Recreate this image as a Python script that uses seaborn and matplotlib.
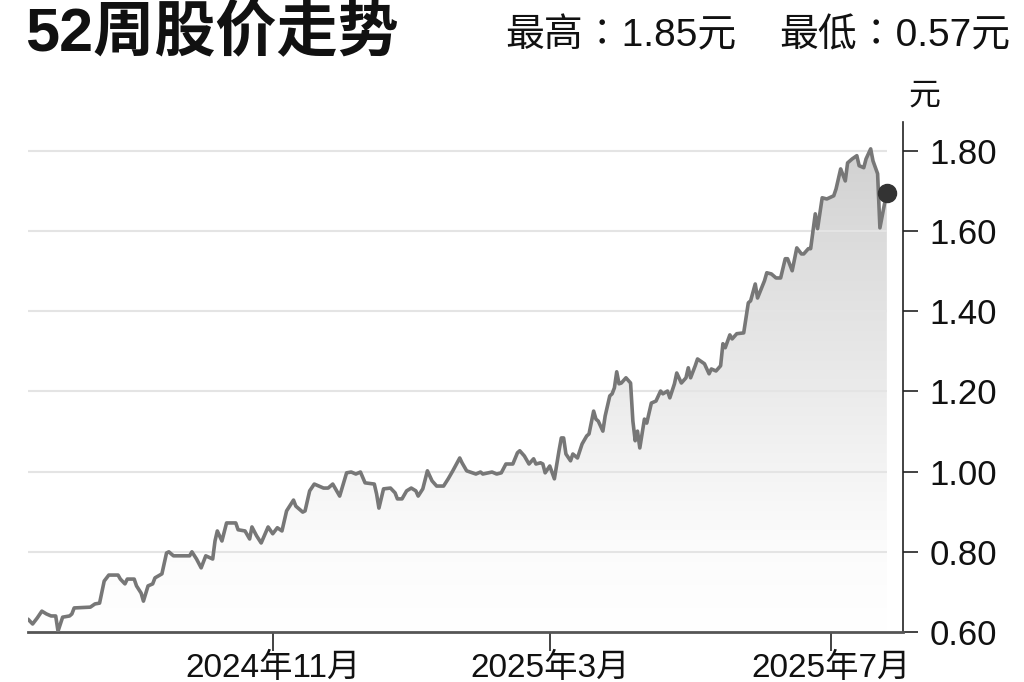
import pandas as pd
import seaborn as sns
import matplotlib.pyplot as plt
import matplotlib.dates as mdates
import numpy as np
from matplotlib.colors import LinearSegmentedColormap

# 52-week closing prices
dates = [
    "2024-07-18", "2024-07-20", "2024-07-22", "2024-07-24", "2024-07-26", "2024-07-28",
    "2024-07-30", "2024-07-31", "2024-08-02", "2024-08-05", "2024-08-06", "2024-08-07",
    "2024-08-14", "2024-08-16", "2024-08-18", "2024-08-20", "2024-08-22", "2024-08-26",
    "2024-08-27", "2024-08-29", "2024-08-30", "2024-09-02", "2024-09-03", "2024-09-05",
    "2024-09-06", "2024-09-08", "2024-09-10", "2024-09-11", "2024-09-14", "2024-09-16",
    "2024-09-17", "2024-09-19", "2024-09-26", "2024-09-27", "2024-09-29", "2024-10-01",
    "2024-10-03", "2024-10-06", "2024-10-07", "2024-10-08", "2024-10-10", "2024-10-12",
    "2024-10-16", "2024-10-17", "2024-10-20", "2024-10-22", "2024-10-23", "2024-10-25",
    "2024-10-27", "2024-10-30", "2024-11-01", "2024-11-03", "2024-11-05", "2024-11-07",
    "2024-11-10", "2024-11-11", "2024-11-14", "2024-11-15", "2024-11-17", "2024-11-19",
    "2024-11-23", "2024-11-25", "2024-11-27", "2024-11-30", "2024-12-03", "2024-12-05",
    "2024-12-07", "2024-12-09", "2024-12-11", "2024-12-15", "2024-12-16", "2024-12-17",
    "2024-12-19", "2024-12-22", "2024-12-24", "2024-12-25", "2024-12-27", "2024-12-29",
    "2024-12-31", "2025-01-02", "2025-01-03", "2025-01-05", "2025-01-07", "2025-01-09",
    "2025-01-11", "2025-01-14", "2025-01-16", "2025-01-18", "2025-01-21", "2025-01-22",
    "2025-01-24", "2025-01-28", "2025-01-30", "2025-01-31", "2025-02-04", "2025-02-06",
    "2025-02-08", "2025-02-10", "2025-02-13", "2025-02-15", "2025-02-16", "2025-02-18",
    "2025-02-20", "2025-02-22", "2025-02-23", "2025-02-25", "2025-02-26", "2025-02-27",
    "2025-03-01", "2025-03-03", "2025-03-05", "2025-03-06", "2025-03-07", "2025-03-08",
    "2025-03-10", "2025-03-11", "2025-03-13", "2025-03-15", "2025-03-17", "2025-03-18",
    "2025-03-20", "2025-03-21", "2025-03-22", "2025-03-24", "2025-03-25", "2025-03-27",
    "2025-03-28", "2025-03-29", "2025-03-30", "2025-03-31", "2025-04-01", "2025-04-03",
    "2025-04-05", "2025-04-06", "2025-04-07", "2025-04-08", "2025-04-09", "2025-04-11",
    "2025-04-12", "2025-04-14", "2025-04-16", "2025-04-18", "2025-04-19", "2025-04-21",
    "2025-04-22", "2025-04-24", "2025-04-25", "2025-04-27", "2025-04-29", "2025-04-30",
    "2025-05-01", "2025-05-03", "2025-05-04", "2025-05-07", "2025-05-09", "2025-05-10",
    "2025-05-12", "2025-05-14", "2025-05-15", "2025-05-16", "2025-05-18", "2025-05-19",
    "2025-05-21", "2025-05-24", "2025-05-26", "2025-05-27", "2025-05-29", "2025-05-30",
    "2025-06-02", "2025-06-03", "2025-06-05", "2025-06-07", "2025-06-09", "2025-06-11",
    "2025-06-12", "2025-06-14", "2025-06-16", "2025-06-18", "2025-06-19", "2025-06-21",
    "2025-06-22", "2025-06-24", "2025-06-25", "2025-06-27", "2025-06-29", "2025-07-02",
    "2025-07-03", "2025-07-05", "2025-07-07", "2025-07-08", "2025-07-10", "2025-07-12",
    "2025-07-13", "2025-07-15", "2025-07-16", "2025-07-18", "2025-07-19", "2025-07-21",
    "2025-07-22", "2025-07-24", "2025-07-25",
]
prices = [
    0.632, 0.620, 0.635, 0.652, 0.645, 0.640,
    0.640, 0.602, 0.637, 0.640, 0.645, 0.660,
    0.662, 0.670, 0.672, 0.727, 0.742, 0.742,
    0.732, 0.720, 0.732, 0.732, 0.715, 0.697,
    0.677, 0.715, 0.720, 0.735, 0.745, 0.797,
    0.800, 0.790, 0.790, 0.800, 0.782, 0.760,
    0.790, 0.782, 0.827, 0.852, 0.827, 0.872,
    0.872, 0.855, 0.852, 0.832, 0.862, 0.840,
    0.822, 0.862, 0.845, 0.860, 0.852, 0.902,
    0.929, 0.914, 0.899, 0.902, 0.952, 0.969,
    0.959, 0.959, 0.969, 0.939, 0.997, 0.999,
    0.994, 0.999, 0.972, 0.969, 0.944, 0.909,
    0.957, 0.959, 0.947, 0.932, 0.932, 0.952,
    0.959, 0.952, 0.939, 0.957, 1.002, 0.977,
    0.964, 0.964, 0.982, 1.002, 1.034, 1.022,
    1.002, 0.994, 0.999, 0.994, 0.999, 0.994,
    0.997, 1.019, 1.019, 1.047, 1.052, 1.039,
    1.019, 1.032, 1.019, 1.022, 1.019, 0.997,
    1.014, 0.982, 1.052, 1.084, 1.084, 1.044,
    1.027, 1.044, 1.034, 1.069, 1.089, 1.094,
    1.151, 1.131, 1.126, 1.101, 1.139, 1.189,
    1.194, 1.209, 1.249, 1.219, 1.221, 1.234,
    1.221, 1.126, 1.077, 1.101, 1.059, 1.131,
    1.121, 1.171, 1.176, 1.201, 1.194, 1.201,
    1.184, 1.219, 1.246, 1.221, 1.234, 1.259,
    1.234, 1.264, 1.281, 1.269, 1.244, 1.256,
    1.251, 1.264, 1.319, 1.309, 1.341, 1.331,
    1.344, 1.346, 1.421, 1.426, 1.468, 1.433,
    1.476, 1.496, 1.493, 1.483, 1.483, 1.531,
    1.531, 1.501, 1.558, 1.543, 1.543, 1.556,
    1.556, 1.643, 1.606, 1.683, 1.680, 1.688,
    1.705, 1.755, 1.725, 1.770, 1.780, 1.788,
    1.763, 1.758, 1.780, 1.805, 1.775, 1.743,
    1.608, 1.668, 1.695,
]

y_ticks = [0.60, 0.80, 1.00, 1.20, 1.40, 1.60, 1.80]
x_ticks = ["2024-11-01", "2025-03-01", "2025-07-01"]
x_tick_labels = ["2024年11月", "2025年3月", "2025年7月"]
title = "52周股价走势"
high_text = "最高∶1.85元"
low_text = "最低∶0.57元"

df = pd.DataFrame({"date": pd.to_datetime(dates), "price": prices})

sns.set_theme(style="white")
plt.rcParams["font.family"] = ["Liberation Sans", "Noto Sans CJK SC", "DejaVu Sans"]

fig = plt.figure(figsize=(10.24, 6.82), dpi=100)
ax = fig.add_axes([28 / 1024, 1 - 632 / 682, 875 / 1024, 510 / 682])

xmin = pd.Timestamp("2024-07-18")
xmax = pd.Timestamp("2025-08-01")
ymin, ymax = 0.60, 1.872

# gradient fill under the line
poly = ax.fill_between(df["date"], df["price"], ymin, facecolor="none", edgecolor="none")
cmap = LinearSegmentedColormap.from_list(
    "fade", [(0.0, "#ffffff"), (0.18, "#fbfbfb"), (0.35, "#f2f2f2"),
             (0.55, "#e7e7e7"), (0.75, "#dddddd"), (1.0, "#cecece")])
grad = np.linspace(0, 1, 256).reshape(-1, 1)
im = ax.imshow(grad, cmap=cmap, origin="lower", aspect="auto", zorder=1,
               extent=[mdates.date2num(xmin), mdates.date2num(df["date"].iloc[-1]), ymin, ymax])
im.set_clip_path(poly.get_paths()[0], transform=ax.transData)

# grid lines stop at the last data point
ax.hlines(y_ticks[1:], xmin, df["date"].iloc[-1], colors="#e4e4e4", linewidth=1.5, zorder=2)

sns.lineplot(data=df, x="date", y="price", ax=ax, color="#777777", linewidth=2.6, zorder=3)
ax.plot(df["date"].iloc[-1], df["price"].iloc[-1], "o", color="#333333", markersize=13, zorder=4)

ax.set_xlim(xmin, xmax)
ax.set_ylim(ymin, ymax)
ax.set_xlabel("")
ax.set_ylabel("")

ax.set_xticks(pd.to_datetime(x_ticks))
ax.set_xticklabels(x_tick_labels)
ax.set_yticks(y_ticks)
ax.set_yticklabels([f"{v:.2f}" for v in y_ticks])
ax.yaxis.tick_right()
ax.tick_params(axis="x", direction="out", length=14, width=1.2, color="#222222",
               pad=1, labelsize=24, labelcolor="#111111", bottom=True)
ax.tick_params(axis="y", direction="out", length=11, width=1.2, color="#222222",
               pad=8, labelsize=25, labelcolor="#111111", right=True, left=False)

for s in ["left", "top"]:
    ax.spines[s].set_visible(False)
ax.spines["bottom"].set_color("#555555")
ax.spines["bottom"].set_linewidth(2.0)
ax.spines["right"].set_color("#222222")
ax.spines["right"].set_linewidth(1.2)

fig.text(25 / 1024, 1 - 51 / 682, title, fontsize=44, fontweight="bold",
         color="#111111", ha="left", va="baseline")
fig.text(505 / 1024, 1 - 46 / 682, high_text, fontsize=28, color="#111111",
         ha="left", va="baseline")
fig.text(1010 / 1024, 1 - 46 / 682, low_text, fontsize=28, color="#111111",
         ha="right", va="baseline")
fig.text(924 / 1024, 1 - 105 / 682, "元", fontsize=23, color="#111111",
         ha="center", va="baseline")

fig.savefig("out.png", dpi=100)
